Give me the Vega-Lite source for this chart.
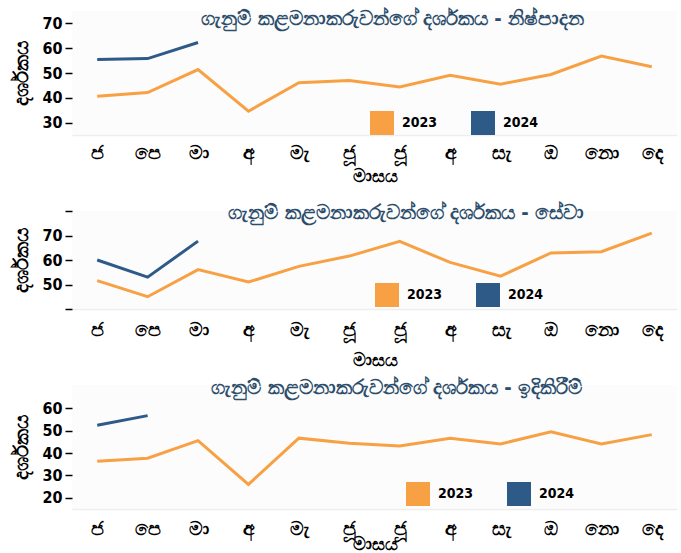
{
  "$schema": "https://vega.github.io/schema/vega-lite/v6.json",
  "background": "white",
  "padding": {"left": 11, "top": 9, "right": 9, "bottom": 1},
  "config": {
    "view": {"stroke": null, "fill": "#fcfcfc"},
    "font": "DejaVu Sans Condensed",
    "axis": {"labelFontWeight": "bold", "labelColor": "black", "titleFontWeight": "bold", "titleColor": "black", "grid": false},
    "axisX": {"ticks": false, "domainColor": "#eeeeee", "domainWidth": 1.5, "labelAngle": 0, "labelFontSize": 19, "labelPadding": 6, "titleFontSize": 18},
    "axisY": {"domain": false, "tickColor": "black", "tickWidth": 1.5, "tickSize": 7, "labelFontSize": 16, "labelPadding": 3, "titleFontSize": 20},
    "legend": {"labelFontSize": 14, "labelFontWeight": "bold", "labelColor": "black", "symbolType": "square", "symbolSize": 100, "symbolStrokeWidth": 14, "direction": "horizontal", "orient": "none", "padding": 0, "labelOffset": 8, "columnPadding": 12},
    "title": {"fontSize": 20, "fontWeight": "bold", "color": "#2c4e6c", "anchor": "end"}
  },
  "datasets": {
    "p1": [
      {"m": 1, "yr": "2023", "v": 40.6}, {"m": 2, "yr": "2023", "v": 42.1}, {"m": 3, "yr": "2023", "v": 51.4},
      {"m": 4, "yr": "2023", "v": 34.6}, {"m": 5, "yr": "2023", "v": 46.1}, {"m": 6, "yr": "2023", "v": 47.0},
      {"m": 7, "yr": "2023", "v": 44.4}, {"m": 8, "yr": "2023", "v": 49.1}, {"m": 9, "yr": "2023", "v": 45.5},
      {"m": 10, "yr": "2023", "v": 49.4}, {"m": 11, "yr": "2023", "v": 56.8}, {"m": 12, "yr": "2023", "v": 52.5},
      {"m": 1, "yr": "2024", "v": 55.4}, {"m": 2, "yr": "2024", "v": 55.8}, {"m": 3, "yr": "2024", "v": 62.3}
    ],
    "p2": [
      {"m": 1, "yr": "2023", "v": 51.6}, {"m": 2, "yr": "2023", "v": 45.0}, {"m": 3, "yr": "2023", "v": 56.1},
      {"m": 4, "yr": "2023", "v": 51.0}, {"m": 5, "yr": "2023", "v": 57.4}, {"m": 6, "yr": "2023", "v": 61.6},
      {"m": 7, "yr": "2023", "v": 67.6}, {"m": 8, "yr": "2023", "v": 59.0}, {"m": 9, "yr": "2023", "v": 53.4},
      {"m": 10, "yr": "2023", "v": 62.9}, {"m": 11, "yr": "2023", "v": 63.4}, {"m": 12, "yr": "2023", "v": 71.0},
      {"m": 1, "yr": "2024", "v": 60.0}, {"m": 2, "yr": "2024", "v": 53.0}, {"m": 3, "yr": "2024", "v": 67.7}
    ],
    "p3": [
      {"m": 1, "yr": "2023", "v": 36.4}, {"m": 2, "yr": "2023", "v": 37.7}, {"m": 3, "yr": "2023", "v": 45.6},
      {"m": 4, "yr": "2023", "v": 26.0}, {"m": 5, "yr": "2023", "v": 46.7}, {"m": 6, "yr": "2023", "v": 44.4},
      {"m": 7, "yr": "2023", "v": 43.2}, {"m": 8, "yr": "2023", "v": 46.7}, {"m": 9, "yr": "2023", "v": 44.1},
      {"m": 10, "yr": "2023", "v": 49.6}, {"m": 11, "yr": "2023", "v": 44.1}, {"m": 12, "yr": "2023", "v": 48.3},
      {"m": 1, "yr": "2024", "v": 52.5}, {"m": 2, "yr": "2024", "v": 56.8}
    ]
  },
  "vconcat": [
    {
      "width": 605, "height": 124,
      "data": {"name": "p1"},
      "title": {"text": "ගැනුම් කළමනාකරුවන්ගේ දර්ශකය - නිෂ්පාදන", "dx": -93, "dy": 22},
      "mark": {"type": "line", "strokeWidth": 3},
      "encoding": {
        "x": {"field": "m", "type": "ordinal", "scale": {"type": "point", "padding": 0.5}, "title": "මාසය",
              "axis": {"titlePadding": 5, "labelPadding": 8, "labelExpr": "['ජ','පෙ','මා','අ','මැ','ජූ','ජූ','අ','සැ','ඔ','නො','දෙ'][datum.value-1]"}},
        "y": {"field": "v", "type": "quantitative", "scale": {"domain": [25, 75], "nice": false, "zero": false}, "title": "දර්ශකය",
              "axis": {"values": [30, 40, 50, 60, 70], "titlePadding": 10}},
        "color": {"field": "yr", "type": "nominal", "scale": {"domain": ["2023", "2024"], "range": ["#f7a144", "#2e5a87"]},
                  "legend": {"title": null, "legendX": 298, "legendY": 100}}
      }
    },
    {
      "width": 605, "height": 98,
      "data": {"name": "p2"},
      "title": {"text": "ගැනුම් කළමනාකරුවන්ගේ දර්ශකය - සේවා", "dx": -93, "dy": 17},
      "mark": {"type": "line", "strokeWidth": 3},
      "encoding": {
        "x": {"field": "m", "type": "ordinal", "scale": {"type": "point", "padding": 0.5}, "title": "මාසය",
              "axis": {"titlePadding": 12, "labelPadding": 11, "labelExpr": "['ජ','පෙ','මා','අ','මැ','ජූ','ජූ','අ','සැ','ඔ','නො','දෙ'][datum.value-1]"}},
        "y": {"field": "v", "type": "quantitative", "scale": {"domain": [40, 80], "nice": false, "zero": false}, "title": "දර්ශකය",
              "axis": {"values": [40, 50, 60, 70, 80], "titlePadding": 10, "labelExpr": "datum.value == 40 || datum.value == 80 ? '' : datum.label"}},
        "color": {"field": "yr", "type": "nominal", "scale": {"domain": ["2023", "2024"], "range": ["#f7a144", "#2e5a87"]},
                  "legend": {"title": null, "legendX": 303, "legendY": 72}}
      }
    },
    {
      "width": 605, "height": 124,
      "data": {"name": "p3"},
      "title": {"text": "ගැනුම් කළමනාකරුවන්ගේ දර්ශකය - ඉදිකිරීම්", "dx": -95, "dy": 17},
      "mark": {"type": "line", "strokeWidth": 3},
      "encoding": {
        "x": {"field": "m", "type": "ordinal", "scale": {"type": "point", "padding": 0.5}, "title": "මාසය",
              "axis": {"titlePadding": -3, "labelPadding": 10, "labelExpr": "['ජ','පෙ','මා','අ','මැ','ජූ','ජූ','අ','සැ','ඔ','නො','දෙ'][datum.value-1]"}},
        "y": {"field": "v", "type": "quantitative", "scale": {"domain": [15, 70.5], "nice": false, "zero": false}, "title": "දර්ශකය",
              "axis": {"values": [20, 30, 40, 50, 60], "titlePadding": 10}},
        "color": {"field": "yr", "type": "nominal", "scale": {"domain": ["2023", "2024"], "range": ["#f7a144", "#2e5a87"]},
                  "legend": {"title": null, "legendX": 334, "legendY": 97}}
      }
    }
  ],
  "spacing": 76,
  "bounds": "flush",
  "resolve": {"legend": {"color": "independent"}, "scale": {"y": "independent"}}
}
